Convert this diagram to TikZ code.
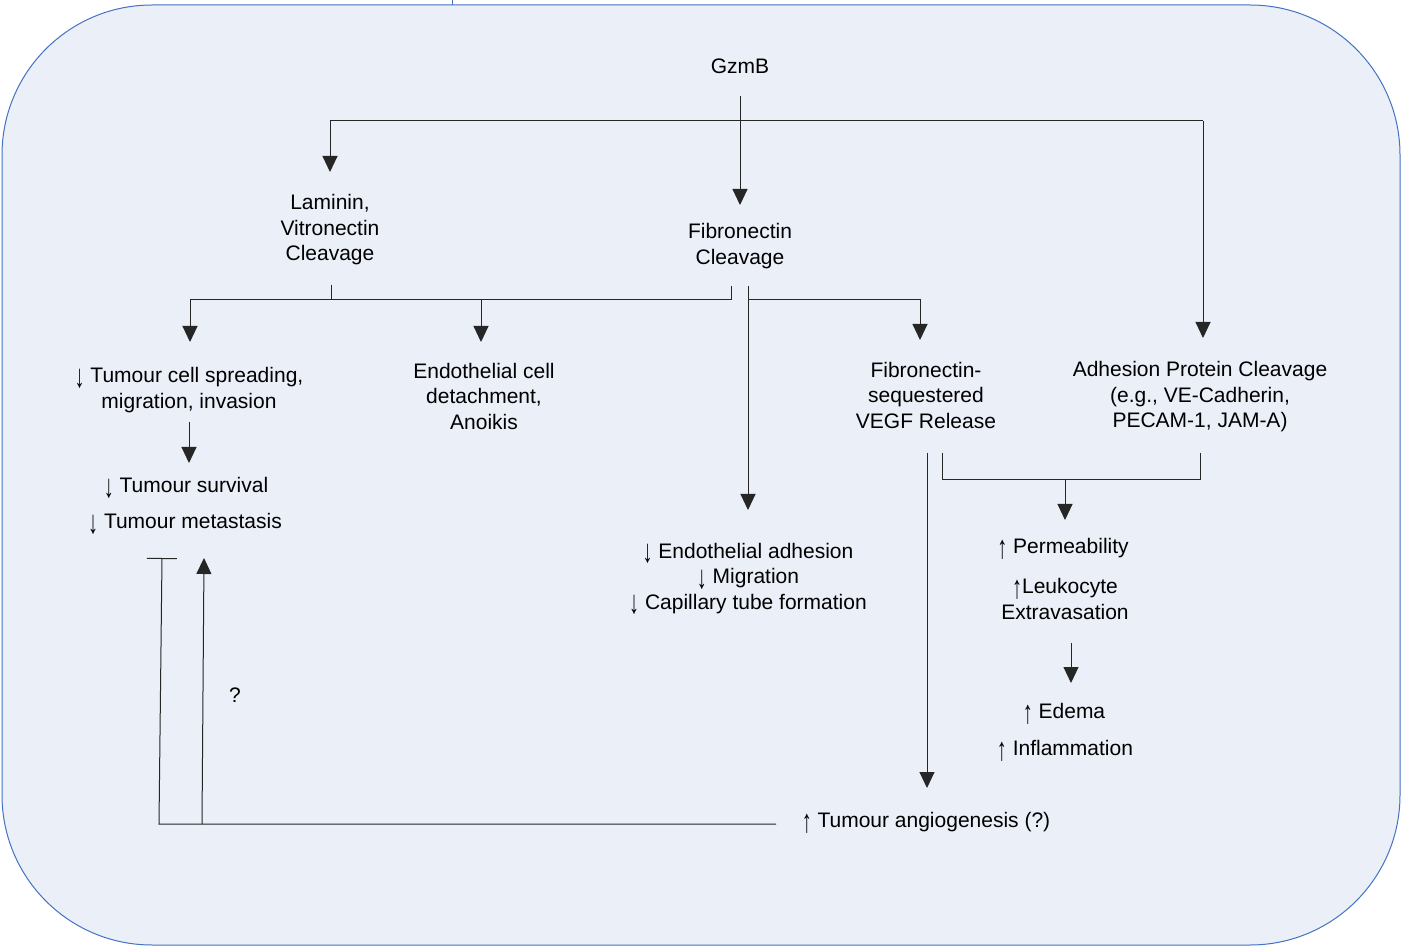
\documentclass[tikz,border=0pt]{standalone}
\usepackage{fontspec}
\setmainfont{Liberation Sans}
\usepackage{tikz}
\usetikzlibrary{arrows.meta}
\definecolor{boxfill}{RGB}{234,239,248}
\definecolor{boxline}{RGB}{68,114,196}
\newcommand{\dn}{\raisebox{-0.22em}{\scalebox{0.95}[1.55]{↓}}}
\newcommand{\up}{\raisebox{-0.22em}{\scalebox{0.95}[1.55]{↑}}}

\begin{document}
\begin{tikzpicture}[x=1pt,y=-1pt,line width=1pt,
    ln/.style={draw=black!85},
    arr/.style={ln,-{Triangle[width=15pt,length=16pt]}},
    inhib/.style={ln,-{Bar[width=30pt]}},
    txt/.style={align=center,inner sep=0pt,font=\fontsize{21pt}{25.5pt}\selectfont}]

      \useasboundingbox (0,0) rectangle (1401,949);
      \draw[boxline,fill=boxfill,rounded corners=150pt] (2,5) rectangle (1400,945);
      \draw[boxline] (452,0) -- (452,5);

      % text
      \node[txt] (gzmb) at (740,66) {GzmB};
      \node[txt] (lam) at (330,230) {Laminin,\\Vitronectin\\Cleavage};
      \node[txt] (fib) at (740,246) {Fibronectin\\Cleavage};
      \node[txt] (spread) at (189,390) {\dn{} Tumour cell spreading,\\migration, invasion};
      \node[txt] (endo) at (484,396) {Endothelial cell\\detachment,\\Anoikis};
      \node[txt] (vegf) at (926,395) {Fibronectin-\\sequestered\\VEGF Release};
      \node[txt] (adh) at (1200,397) {Adhesion Protein Cleavage\\(e.g., VE-Cadherin,\\PECAM-1, JAM-A)};
      \node[txt] (surv) at (186,488) {\dn{} Tumour survival};
      \node[txt] (meta) at (185,524) {\dn{} Tumour metastasis};
      \node[txt] (eadh) at (748,579) {\dn{} Endothelial adhesion\\\dn{} Migration\\\dn{} Capillary tube formation};
      \node[txt] (perm) at (1063,549) {\up{} Permeability};
      \node[txt] (leuk) at (1065,599) {\up{}Leukocyte\\Extravasation};
      \node[txt] (edema) at (1064,714) {\up{} Edema};
      \node[txt] (infl) at (1065,751) {\up{} Inflammation};
      \node[txt] (angio) at (926,823) {\up{} Tumour angiogenesis (?)};
      \node[txt] (quest) at (235,695) {?};

      % connector ends
      \coordinate (gzmb-out) at (740,96);
      \coordinate (fib-in) at (740,205);
      \coordinate (bus1) at (1203,121);
      \coordinate (lam-in) at (330,172);
      \coordinate (adh-in) at (1203,338);
      \coordinate (bus2) at (0,300);
      \coordinate (lam-out) at (331,285);
      \coordinate (fib-l) at (731,286);
      \coordinate (fib-r) at (748,286);
      \coordinate (spread-in) at (190,342);
      \coordinate (endo-in) at (481,342);
      \coordinate (vegf-in) at (920,340);
      \coordinate (eadh-in) at (748,510);
      \coordinate (spread-out) at (189,422);
      \coordinate (surv-in) at (189,463);
      \coordinate (vegf-out) at (927,453);
      \coordinate (angio-in) at (927,788);
      \coordinate (brk-l) at (942,453);
      \coordinate (brk-r) at (1200,453);
      \coordinate (bus3) at (0,480);
      \coordinate (perm-in) at (1065,520);
      \coordinate (leuk-out) at (1071,643);
      \coordinate (edema-in) at (1071,683);
      \coordinate (angio-w) at (776,824);
      \coordinate (loop-l) at (159,824);
      \coordinate (loop-m) at (202,824);
      \coordinate (inh-top) at (162,558);
      \coordinate (meta-in) at (204,558);

      \draw[arr] (gzmb-out) -- (fib-in);
      \draw[arr] (bus1) -| (lam-in);
      \draw[arr] (bus1) -- (adh-in);
      \draw[ln] (lam-out) -- (lam-out |- bus2);
      \draw[arr] (fib-l) -- (fib-l |- bus2) -| (spread-in);
      \draw[arr] (endo-in |- bus2) -- (endo-in);
      \draw[arr] (fib-r) -- (eadh-in);
      \draw[arr] (fib-r |- bus2) -| (vegf-in);
      \draw[arr] (spread-out) -- (surv-in);
      \draw[arr] (vegf-out) -- (angio-in);
      \draw[ln] (brk-l) -- (brk-l |- bus3) -| (brk-r);
      \draw[arr] (perm-in |- bus3) -- (perm-in);
      \draw[arr] (leuk-out) -- (edema-in);
      \draw[inhib] (angio-w) -- (loop-l) -- (inh-top);
      \draw[arr] (loop-m) -- (meta-in);

    \end{tikzpicture}
\end{document}
